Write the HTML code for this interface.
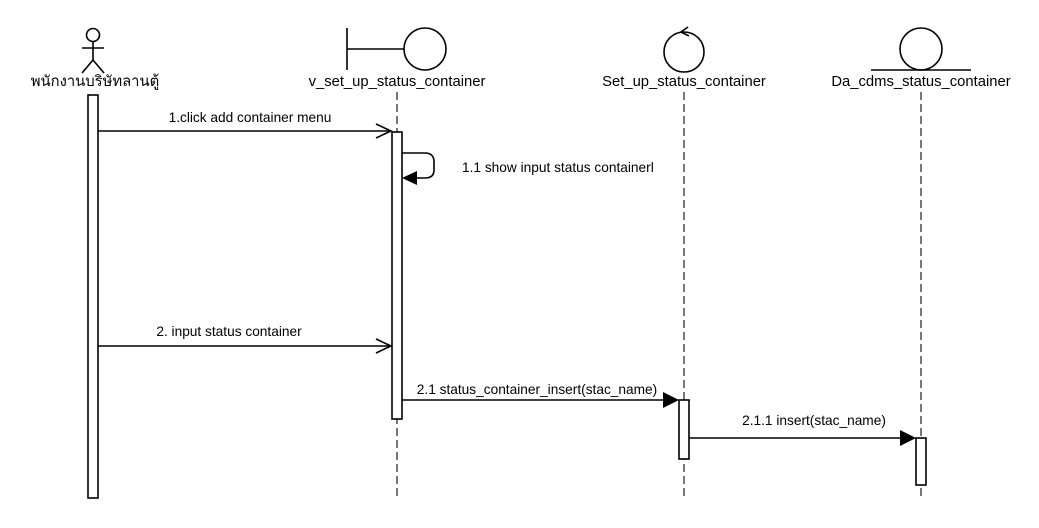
<!DOCTYPE html>
<html><head><meta charset="utf-8"><style>
html,body{margin:0;padding:0;background:#fff;}
svg{display:block;}
text{font-family:"Liberation Sans",Arial,sans-serif;font-size:14.8px;fill:#000;}
text.m{font-size:13.7px;}
</style></head><body>
<svg width="1039" height="528" viewBox="0 0 1039 528" xmlns="http://www.w3.org/2000/svg">
<g stroke="#000" stroke-width="1.6" fill="none">
<circle cx="93" cy="35" r="6.5" fill="#fff"/>
<line x1="93" y1="41" x2="93" y2="60"/>
<line x1="82" y1="48" x2="104" y2="48"/>
<line x1="93" y1="60" x2="82" y2="73"/>
<line x1="93" y1="60" x2="104" y2="73"/>
<line x1="347" y1="28" x2="347" y2="70"/>
<line x1="347" y1="49" x2="404" y2="49"/>
<circle cx="425" cy="49" r="21" fill="#fff"/>
<circle cx="684" cy="52" r="20" fill="#fff"/>
<polyline points="689,36 681,32 688,27"/>
<circle cx="921" cy="49" r="21" fill="#fff"/>
<line x1="871" y1="70" x2="971" y2="70"/>
<g stroke="#555" stroke-dasharray="8,4">
<line x1="397" y1="92" x2="397" y2="500"/>
<line x1="684" y1="92" x2="684" y2="500"/>
<line x1="921" y1="92" x2="921" y2="500"/>
</g>
<rect x="88" y="95" width="10" height="403" fill="#fff"/>
<rect x="392" y="132" width="10" height="287" fill="#fff"/>
<rect x="679" y="400" width="10" height="59" fill="#fff"/>
<rect x="916" y="438" width="10" height="47" fill="#fff"/>
<line x1="98" y1="131" x2="391" y2="131"/>
<polyline points="376,124 391,131 376,138"/>
<path d="M402 153 H425 Q434 153 434 162 V170 Q434 178 425 178 H404"/>
<line x1="98" y1="346" x2="391" y2="346"/>
<polyline points="376,339 391,346 376,353"/>
<line x1="402" y1="400" x2="664" y2="400"/>
<line x1="689" y1="438" x2="901" y2="438"/>
</g>
<polygon points="402,178 417,171 417,185" fill="#000"/>
<polygon points="679,400 663,392 663,408" fill="#000"/>
<polygon points="916,438 900,430 900,446" fill="#000"/>
<text x="95" y="86" text-anchor="middle" style='font-family:"Liberation Sans","Noto Sans CJK SC",sans-serif'>พนักงานบริษัทลานตู้</text>
<text x="397" y="86" text-anchor="middle">v_set_up_status_container</text>
<text x="684" y="86" text-anchor="middle">Set_up_status_container</text>
<text x="921" y="86" text-anchor="middle">Da_cdms_status_container</text>
<text class="m" x="250" y="122" text-anchor="middle">1.click add container menu</text>
<text class="m" x="462" y="172">1.1 show input status containerl</text>
<text class="m" x="229" y="336" text-anchor="middle">2. input status container</text>
<text class="m" x="537" y="394" text-anchor="middle">2.1 status_container_insert(stac_name)</text>
<text class="m" x="814" y="425" text-anchor="middle">2.1.1 insert(stac_name)</text>
</svg>
</body></html>
